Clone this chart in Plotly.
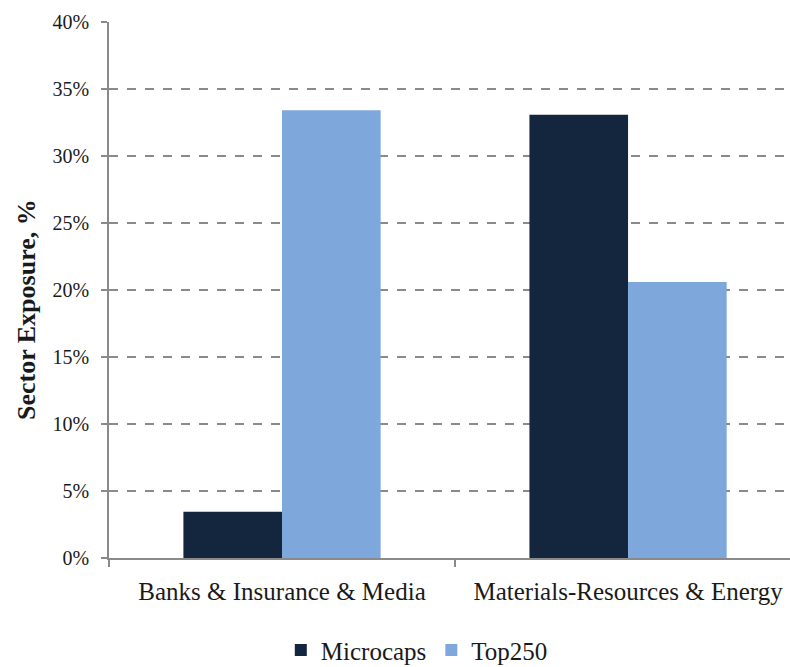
import plotly.graph_objects as go

categories = ["Banks & Insurance & Media", "Materials-Resources & Energy"]
microcaps = [0.0345, 0.3308]
top250 = [0.3341, 0.2060]
y_ticks = [0, 0.05, 0.10, 0.15, 0.20, 0.25, 0.30, 0.35, 0.40]
y_tick_labels = ["0%", "5%", "10%", "15%", "20%", "25%", "30%", "35%", "40%"]
y_title = "Sector Exposure, %"

FONT = "Liberation Serif, Times New Roman, serif"
GRID = "#8a8a8a"
TXT = "#1a1a1a"

fig = go.Figure()
fig.add_trace(go.Bar(name="Microcaps", x=categories, y=microcaps, marker_color="#14253e",
                     marker_line_width=0))
fig.add_trace(go.Bar(name="Top250", x=categories, y=top250, marker_color="#7ea8db",
                     marker_line_width=0))

fig.update_layout(
    width=790, height=667,
    margin=dict(l=109, r=0, t=22, b=109, autoexpand=False),
    paper_bgcolor="white", plot_bgcolor="white",
    barmode="group", bargap=0.43, bargroupgap=0,
    font=dict(family=FONT, color=TXT, size=20),
    showlegend=True,
    legend=dict(orientation="h", x=0.452, xanchor="center",
                yref="container", y=0.025, yanchor="middle",
                font=dict(family=FONT, size=25, color=TXT),
                itemsizing="constant", traceorder="normal", itemwidth=30),
)
fig.update_xaxes(
    range=[-0.5, 1.468], showgrid=False, automargin=False,
    showline=True, linecolor=GRID, linewidth=1.5,
    ticks="outside", tickson="boundaries", ticklen=7, tickcolor=GRID, tickwidth=1.5,
    tickfont=dict(family=FONT, size=25, color=TXT), ticklabelstandoff=10,
)
fig.update_yaxes(
    range=[0, 0.40], tickvals=y_ticks, ticktext=y_tick_labels, automargin=False,
    showgrid=True, gridcolor=GRID, gridwidth=1.5, griddash="dash",
    showline=True, linecolor=GRID, linewidth=1.5,
    ticks="outside", ticklen=6, tickcolor=GRID, tickwidth=1.5,
    tickfont=dict(family=FONT, size=20, color=TXT), ticklabelstandoff=8,
    zeroline=False,
)
fig.add_annotation(
    text="<b>" + y_title + "</b>", textangle=-90, showarrow=False,
    xref="paper", yref="paper", x=-0.1204, y=0.4627, xanchor="center", yanchor="middle",
    font=dict(family=FONT, size=26, color=TXT),
)

fig.write_html("out.html")
